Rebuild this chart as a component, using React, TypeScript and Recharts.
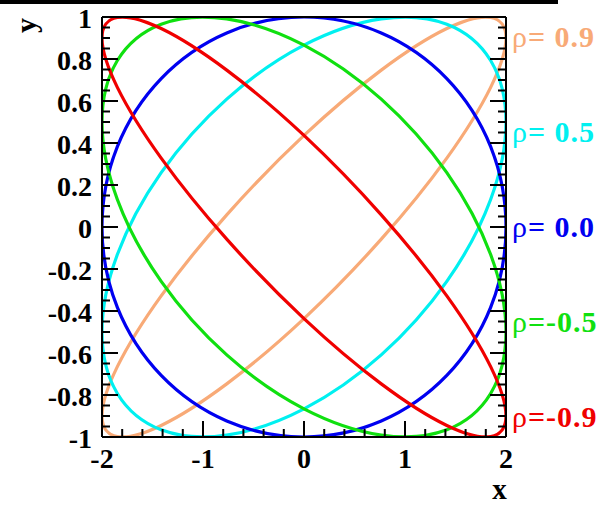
import React from 'react';
import { LineChart, Line, XAxis, YAxis, Legend } from 'recharts';

// Points (same x positions for every curve)
const curveX = [0, 0.765, 1.414, 1.848, 2, 1.848, 1.414, 0.765, 0, -0.765, -1.414, -1.848, -2, -1.848, -1.414, -0.765];

const yRhoPos09 = [0.436, 0.747, 0.945, 0.998, 0.9, 0.665, 0.328, -0.058, -0.436, -0.747, -0.945, -0.998, -0.9, -0.665, -0.328, 0.058];
const yRhoPos05 = [0.866, 0.991, 0.966, 0.793, 0.5, 0.131, -0.259, -0.609, -0.866, -0.991, -0.966, -0.793, -0.5, -0.131, 0.259, 0.609];
const yRho00 = [1, 0.924, 0.707, 0.383, 0, -0.383, -0.707, -0.924, -1, -0.924, -0.707, -0.383, 0, 0.383, 0.707, 0.924];
const yRhoNeg05 = [0.866, 0.609, 0.259, -0.131, -0.5, -0.793, -0.966, -0.991, -0.866, -0.609, -0.259, 0.131, 0.5, 0.793, 0.966, 0.991];
const yRhoNeg09 = [0.436, 0.058, -0.328, -0.665, -0.9, -0.998, -0.945, -0.747, -0.436, -0.058, 0.328, 0.665, 0.9, 0.998, 0.945, 0.747];

const rhoNames = [' 0.9', ' 0.5', ' 0.0', '-0.5', '-0.9'];
const rhoColors = ['#f8aa77', '#00f0f0', '#0000f0', '#10e010', '#f00000'];
const rhoValues = [yRhoPos09, yRhoPos05, yRho00, yRhoNeg05, yRhoNeg09];

const xTicks = [-2, -1.8, -1.6, -1.4, -1.2, -1, -0.8, -0.6, -0.4, -0.2, 0, 0.2, 0.4, 0.6, 0.8, 1, 1.2, 1.4, 1.6, 1.8, 2];
const yTicks = [
  -1, -0.95, -0.9, -0.85, -0.8, -0.75, -0.7, -0.65, -0.6, -0.55, -0.5, -0.45, -0.4, -0.35, -0.3, -0.25, -0.2, -0.15, -0.1, -0.05,
  0, 0.05, 0.1, 0.15, 0.2, 0.25, 0.3, 0.35, 0.4, 0.45, 0.5, 0.55, 0.6, 0.65, 0.7, 0.75, 0.8, 0.85, 0.9, 0.95, 1,
];

const FONT = "'Liberation Serif', 'Times New Roman', serif";

const series = rhoNames.map((name, i) => ({
  name,
  color: rhoColors[i],
  points: curveX.map((x, k) => ({ x, y: rhoValues[i][k] })),
}));

// closed Catmull-Rom curve through the points
function closedCatmullRom(context: any) {
  let pts: number[][] = [];
  return {
    areaStart() {},
    areaEnd() {},
    lineStart() {
      pts = [];
    },
    point(x: number, y: number) {
      pts.push([+x, +y]);
    },
    lineEnd() {
      const n = pts.length;
      if (n === 0) return;
      context.moveTo(pts[0][0], pts[0][1]);
      for (let i = 0; i < n; i++) {
        const p0 = pts[(i - 1 + n) % n];
        const p1 = pts[i];
        const p2 = pts[(i + 1) % n];
        const p3 = pts[(i + 2) % n];
        context.bezierCurveTo(
          p1[0] + (p2[0] - p0[0]) / 6,
          p1[1] + (p2[1] - p0[1]) / 6,
          p2[0] - (p3[0] - p1[0]) / 6,
          p2[1] - (p3[1] - p1[1]) / 6,
          p2[0],
          p2[1]
        );
      }
      context.closePath();
    },
  };
}

const isMajorX = (v: number) => Math.abs(v - Math.round(v)) < 1e-6;
const isMajorY = (v: number) => Math.abs(v * 5 - Math.round(v * 5)) < 1e-6;

const renderTick = (side: 'left' | 'right' | 'top' | 'bottom') => (props: any) => {
  const { x, y, payload } = props;
  const v = payload.value as number;
  const major = side === 'left' || side === 'right' ? isMajorY(v) : isMajorX(v);
  const len = major ? 16 : 8;
  let line;
  let label = null;
  if (side === 'left') {
    line = <line x1={x} y1={y} x2={x + len} y2={y} stroke="#000" strokeWidth={2} />;
    if (major)
      label = (
        <text x={x - 10} y={y + 10.5} textAnchor="end" fontFamily={FONT} fontWeight="bold" fontSize={28} fill="#000">
          {String(v)}
        </text>
      );
  } else if (side === 'right') {
    line = <line x1={x} y1={y} x2={x - len} y2={y} stroke="#000" strokeWidth={2} />;
  } else if (side === 'top') {
    line = <line x1={x} y1={y} x2={x} y2={y + len} stroke="#000" strokeWidth={2} />;
  } else {
    line = <line x1={x} y1={y} x2={x} y2={y - len} stroke="#000" strokeWidth={2} />;
    if (major)
      label = (
        <text x={x} y={y + 31} textAnchor="middle" fontFamily={FONT} fontWeight="bold" fontSize={28} fill="#000">
          {String(v)}
        </text>
      );
  }
  return (
    <g>
      {line}
      {label}
    </g>
  );
};

const xTitle = (props: any) => {
  const vb = props.viewBox;
  return (
    <text x={vb.x + vb.width - 6.5} y={vb.y + 62} textAnchor="middle" fontFamily={FONT} fontWeight="bold" fontSize={29} fill="#000">
      x
    </text>
  );
};

const yTitle = (props: any) => {
  const vb = props.viewBox;
  const cx = vb.x + 36;
  const cy = vb.y + 8.5;
  return (
    <text x={cx} y={cy} transform={`rotate(-90 ${cx} ${cy})`} textAnchor="middle" fontFamily={FONT} fontWeight="bold" fontSize={30} fill="#000">
      y
    </text>
  );
};

const RhoLegend = (props: any) => {
  const payload = [...(props.payload || [])].sort(
    (a: any, b: any) => rhoNames.indexOf(a.value) - rhoNames.indexOf(b.value)
  );
  return (
    <svg width={107} height={440} style={{ display: 'block' }}>
      {payload.map((p: any, i: number) => (
        <text key={i} x={4} y={39 + i * 95} fill={p.color} fontFamily={FONT} fontSize={30} fontWeight="bold" letterSpacing={1}>
          <tspan fontWeight="normal">ρ</tspan>
          {'=' + p.value}
        </text>
      ))}
    </svg>
  );
};

const axisLine = { stroke: '#000', strokeWidth: 2 };

export default function App() {
  return (
    <div style={{ position: 'absolute', left: 0, top: 0, width: 615, height: 505, background: '#fff' }}>
      <div style={{ position: 'absolute', left: 0, top: 0, width: 558, height: 4, background: '#000' }} />
      <LineChart width={615} height={505} margin={{ top: 0, right: 0, bottom: 0, left: 0 }}>
        {series.map((s) => (
          <Line
            key={s.name}
            data={s.points}
            dataKey="y"
            name={s.name}
            type={closedCatmullRom as any}
            stroke={s.color}
            strokeWidth={3.2}
            fill="none"
            dot={false}
            activeDot={false}
            isAnimationActive={false}
          />
        ))}
        <XAxis
          dataKey="x"
          type="number"
          domain={[-2, 2]}
          ticks={xTicks}
          interval={0}
          allowDataOverflow
          tick={renderTick('bottom')}
          tickLine={false}
          tickSize={0}
          tickMargin={0}
          axisLine={axisLine}
          height={68}
          label={xTitle}
        />
        <XAxis
          xAxisId="top"
          orientation="top"
          type="number"
          domain={[-2, 2]}
          ticks={xTicks}
          interval={0}
          allowDataOverflow
          tick={renderTick('top')}
          tickLine={false}
          tickSize={0}
          tickMargin={0}
          axisLine={axisLine}
          height={17}
        />
        <YAxis
          type="number"
          domain={[-1, 1]}
          ticks={yTicks}
          interval={0}
          allowDataOverflow
          tick={renderTick('left')}
          tickLine={false}
          tickSize={0}
          tickMargin={0}
          axisLine={axisLine}
          width={102}
          label={yTitle}
        />
        <YAxis
          yAxisId="right"
          orientation="right"
          type="number"
          domain={[-1, 1]}
          ticks={yTicks}
          interval={0}
          allowDataOverflow
          tick={renderTick('right')}
          tickLine={false}
          tickSize={0}
          tickMargin={0}
          axisLine={axisLine}
          width={109}
        />
        <Legend
          layout="horizontal"
          verticalAlign="middle"
          align="center"
          content={<RhoLegend />}
          wrapperStyle={{ left: 508, top: 8, width: 107, height: 440 }}
        />
      </LineChart>
    </div>
  );
}
